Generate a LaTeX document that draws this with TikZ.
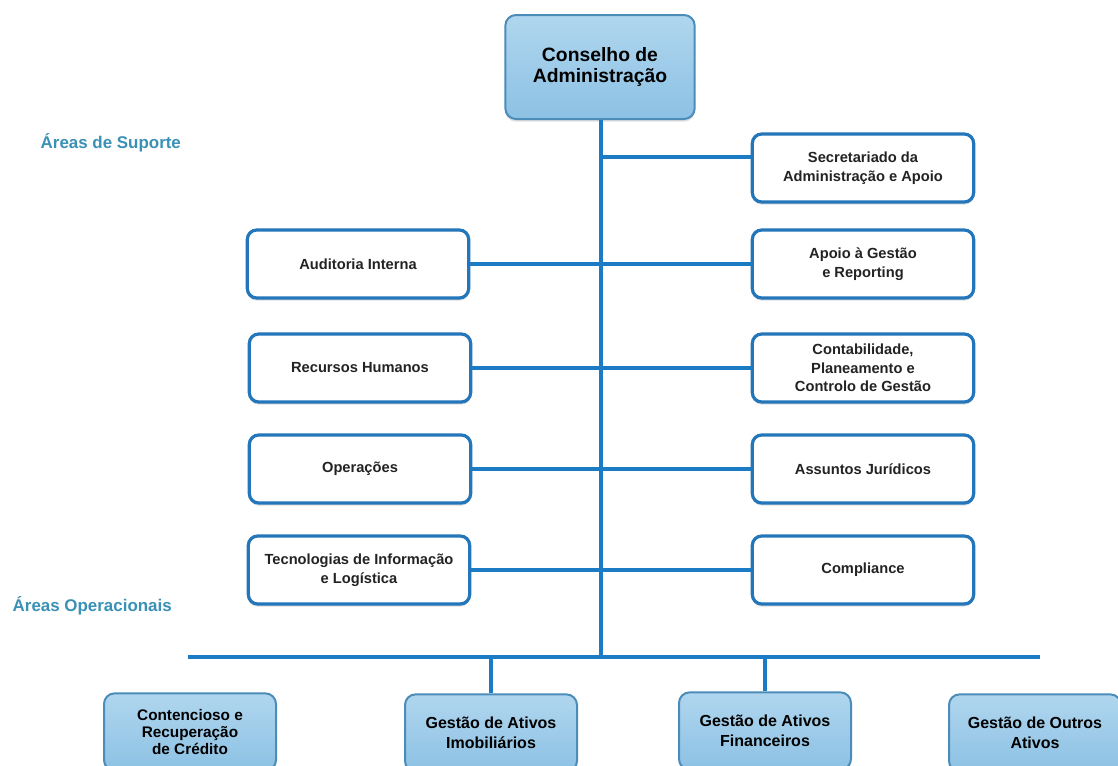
\documentclass[tikz,border=0pt]{standalone}
\usepackage{fontspec}
\setmainfont{Liberation Sans}
\usetikzlibrary{shadows}
\definecolor{lineblue}{RGB}{27,123,196}
\definecolor{boxborder}{RGB}{35,118,185}
\definecolor{topfill}{RGB}{176,214,238}
\definecolor{botfill}{RGB}{140,193,228}
\definecolor{topborder}{RGB}{75,140,185}
\definecolor{lbl}{RGB}{58,145,182}
\definecolor{txt}{RGB}{35,35,35}
\tikzset{
  conn/.style={draw=lineblue, line width=2.6pt},
  sidebox/.style={draw=boxborder, line width=2.4pt, rounded corners=7pt, fill=white,
    minimum width=166pt, minimum height=51pt, align=center, text=txt,
    font=\bfseries\fontsize{11}{14}\selectfont,
    drop shadow={opacity=0.25, shadow xshift=0pt, shadow yshift=-2pt}},
  bluebox/.style={draw=topborder, line width=1.5pt, rounded corners=8pt,
    top color=topfill, bottom color=botfill, align=center, text=black,
    drop shadow={opacity=0.25, shadow xshift=0pt, shadow yshift=-2pt}},
  bottombox/.style={bluebox, minimum width=129pt, minimum height=58pt,
    font=\bfseries\fontsize{12}{15}\selectfont},
  arealabel/.style={text=lbl, anchor=west, font=\bfseries\fontsize{12.7}{15}\selectfont}
}
\begin{document}
\begin{tikzpicture}[x=0.75pt,y=-0.75pt]
\useasboundingbox (0,0) rectangle (1118,765);
\clip (0,0) rectangle (1118,765);
\fill[white] (0,0) rectangle (1118,765);

% top
\node[bluebox, minimum width=142pt, minimum height=78pt,
  font=\bfseries\fontsize{14.5}{16}\selectfont] (top) at (600,67) {Conselho de\\Administração};

% labels
\node[arealabel] (lsup) at (36,143) {Áreas de Suporte};
\node[arealabel] (lop) at (8,606) {Áreas Operacionais};

% side boxes
\node[sidebox] (sec) at (863,168) {Secretariado da\\Administração e Apoio};
\node[sidebox] (aud) at (358,264) {Auditoria Interna};
\node[sidebox] (apo) at (863,264) {Apoio à Gestão\\e Reporting};
\node[sidebox] (rh) at (360,368) {Recursos Humanos};
\node[sidebox] (cont) at (863,368) {Contabilidade,\\Planeamento e\\Controlo de Gestão};
\node[sidebox] (ops) at (360,469) {Operações};
\node[sidebox] (jur) at (863,469) {Assuntos Jurídicos};
\node[sidebox] (tec) at (359,570) {Tecnologias de Informação\\e Logística};
\node[sidebox] (comp) at (863,570) {Compliance};

% bottom boxes
\node[bottombox, font=\bfseries\fontsize{11.5}{12.5}\selectfont] (contc) at (190,732) {Contencioso e\\Recuperação\\de Crédito};
\node[bottombox] (imo) at (491,733) {Gestão de Ativos\\Imobiliários};
\node[bottombox] (fin) at (765,731) {Gestão de Ativos\\Financeiros};
\node[bottombox] (out) at (1035,733) {Gestão de Outros\\Ativos};

% connectors
\coordinate (bl) at (188,657);
\coordinate (br) at (1040,657);
\coordinate (j0) at (601,157);
\draw[conn] (top.south -| j0) -- (bl -| j0);
\draw[conn] (bl) -- (br);
\draw[conn] (j0) -- (j0 -| sec.west);
\draw[conn] (aud.east) -- (apo.west);
\draw[conn] (rh.east) -- (cont.west);
\draw[conn] (ops.east) -- (jur.west);
\draw[conn] (tec.east) -- (comp.west);
\draw[conn] (bl -| imo.north) -- (imo.north);
\draw[conn] (bl -| fin.north) -- (fin.north);
\end{tikzpicture}
\end{document}
